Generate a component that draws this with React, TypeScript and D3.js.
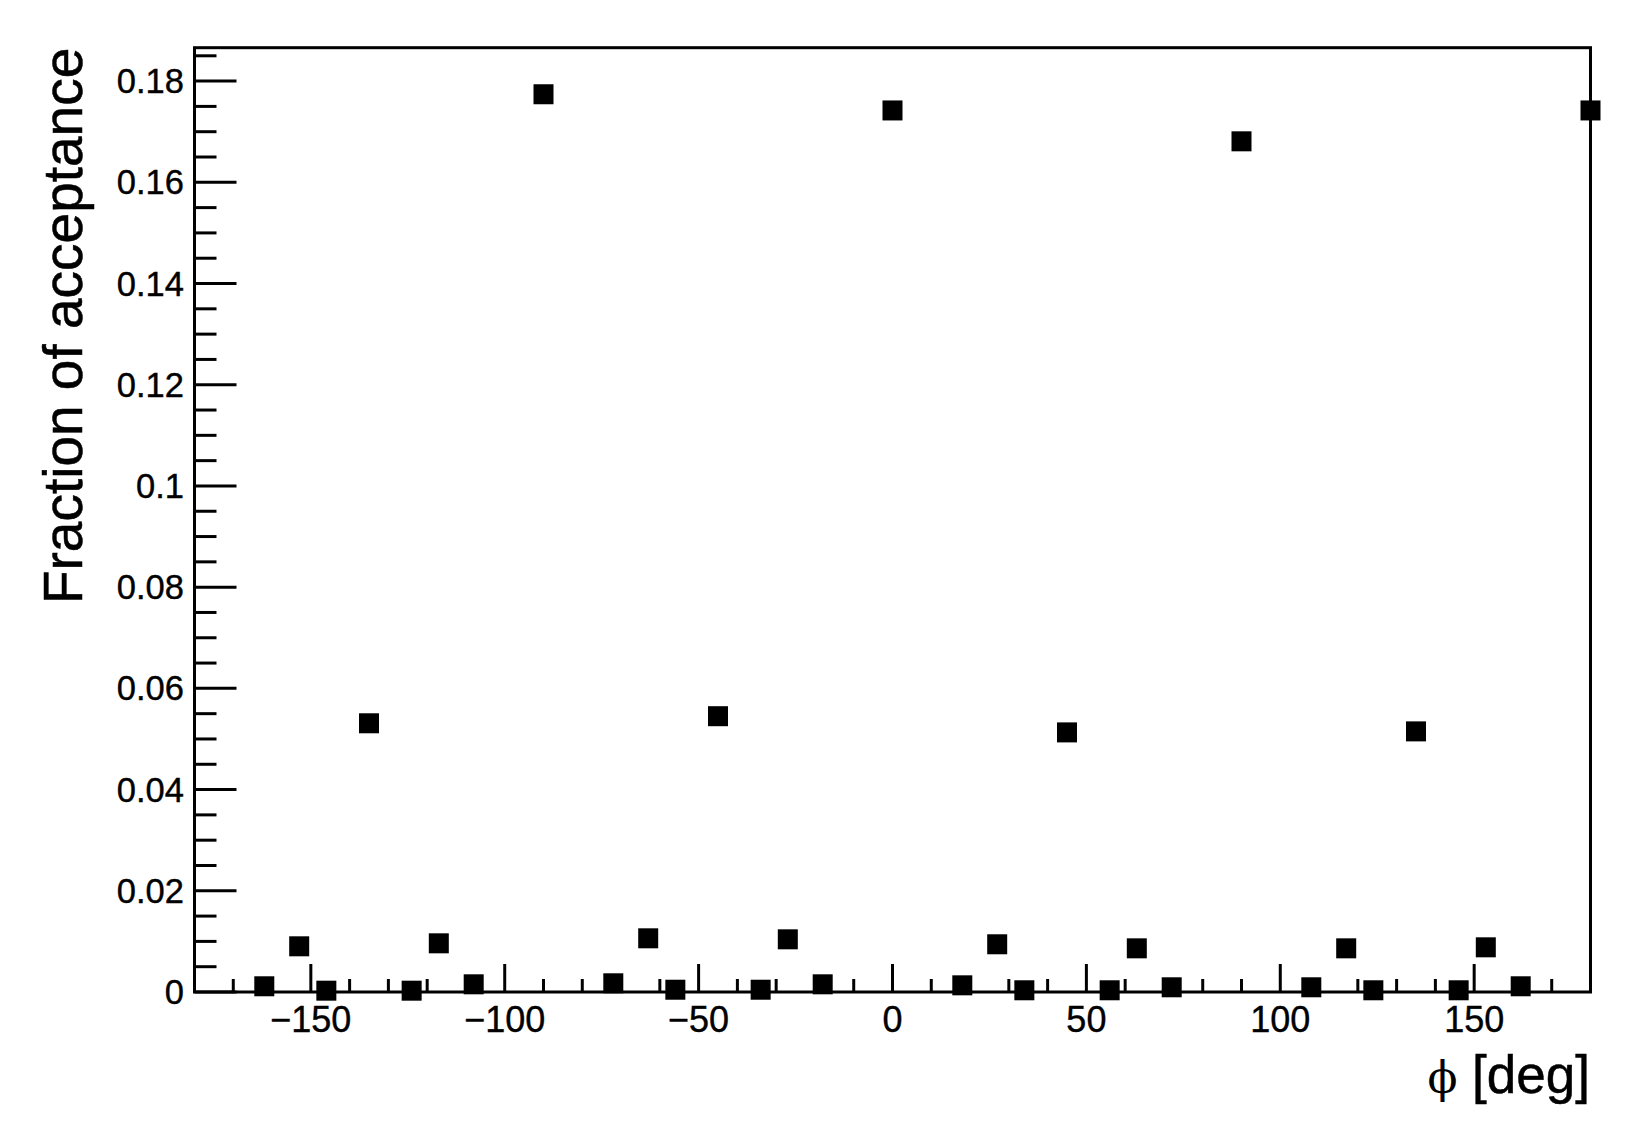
import React from "react";
import * as d3 from "d3";

// ---- data ----
const phiDeg = [
  -162, -153, -146, -135, -124, -117, -108, -90, -72, -63, -56, -45, -34, -27, -18, 0,
  18, 27, 34, 45, 56, 63, 72, 90, 108, 117, 124, 135, 146, 153, 162, 180,
];
const acceptance = [
  0.00113, 0.00903, 0.00026, 0.0531, 0.00026, 0.00962, 0.00152, 0.1774,
  0.00172, 0.01061, 0.00045, 0.0545, 0.00045, 0.01041, 0.00152, 0.1742,
  0.00132, 0.00943, 0.00034, 0.0513, 0.00034, 0.00863, 0.00093, 0.1681,
  0.00093, 0.00863, 0.00034, 0.0515, 0.00034, 0.00883, 0.00113, 0.1742,
];
const xMajorTicks = [-150, -100, -50, 0, 50, 100, 150];
const xTickLabels = ["\u2212150", "\u2212100", "\u221250", "0", "50", "100", "150"];
const yMajorTicks = [0, 0.02, 0.04, 0.06, 0.08, 0.1, 0.12, 0.14, 0.16, 0.18];
const yTickLabels = ["0", "0.02", "0.04", "0.06", "0.08", "0.1", "0.12", "0.14", "0.16", "0.18"];
const xDomain = [-180, 180];
const yDomain = [0, 0.1866];
const xTitleSymbol = "\u03D5";
const xTitleText = "[deg]";
const yTitle = "Fraction of acceptance";

const W = 1629;
const H = 1135;
const left = 194.5;
const right = 1590.5;
const top = 47.7;
const bottom = 992;

export default function App() {
  const x = d3.scaleLinear().domain(xDomain).range([left, right]);
  const y = d3.scaleLinear().domain(yDomain).range([bottom, top]);
  const xMinor = d3.range(-170, 171, 10).filter((v) => v % 50 !== 0);
  const yMinor = d3.range(0, 0.1866, 0.005).map((v) => +v.toFixed(3)).filter((v) => Math.round(v * 1000) % 20 !== 0);
  const font = "'Liberation Sans', Arial, Helvetica, sans-serif";
  const ms = 20;
  return (
    <svg width={W} height={H} style={{ position: "absolute", left: 0, top: 0, background: "#fff" }}>
      <rect x={0} y={0} width={W} height={H} fill="#fff" />
      {/* frame */}
      <rect x={left} y={top} width={right - left} height={bottom - top} fill="none" stroke="#000" strokeWidth={3} />
      {/* x ticks */}
      {xMajorTicks.map((t) => (
        <line key={"xM" + t} x1={x(t)} x2={x(t)} y1={bottom} y2={bottom - 28} stroke="#000" strokeWidth={3} />
      ))}
      {xMinor.map((t) => (
        <line key={"xm" + t} x1={x(t)} x2={x(t)} y1={bottom} y2={bottom - 13} stroke="#000" strokeWidth={3} />
      ))}
      {/* y ticks */}
      {yMajorTicks.map((t) => (
        <line key={"yM" + t} x1={left} x2={left + 42} y1={y(t)} y2={y(t)} stroke="#000" strokeWidth={3} />
      ))}
      {yMinor.map((t) => (
        <line key={"ym" + t} x1={left} x2={left + 22} y1={y(t)} y2={y(t)} stroke="#000" strokeWidth={3} />
      ))}
      {/* x tick labels */}
      {xMajorTicks.map((t, i) => (
        <text key={"xl" + t} x={x(t)} y={1031.5} textAnchor="middle" fontFamily={font} fontSize={36}
          fill="#000" stroke="#000" strokeWidth={0.4}>
          {xTickLabels[i]}
        </text>
      ))}
      {/* y tick labels */}
      {yMajorTicks.map((t, i) => (
        <text key={"yl" + t} x={184} y={y(t) + 12} textAnchor="end" fontFamily={font} fontSize={34.5}
          fill="#000" stroke="#000" strokeWidth={0.4}>
          {yTickLabels[i]}
        </text>
      ))}
      {/* axis titles */}
      <text x={1590} y={1093} textAnchor="end" fontFamily={font} fontSize={53} fill="#000" stroke="#000" strokeWidth={0.5}>
        <tspan fontFamily="'DejaVu Serif', serif" fontSize={44} strokeWidth={0}>{xTitleSymbol}</tspan>
        <tspan> {xTitleText}</tspan>
      </text>
      <text
        transform={`translate(82, ${top}) rotate(-90)`}
        textAnchor="end"
        fontFamily={font}
        fontSize={55}
        fill="#000"
        stroke="#000"
        strokeWidth={0.5}
      >
        {yTitle}
      </text>
      {/* markers */}
      {phiDeg.map((p, i) => (
        <rect key={"m" + i} x={x(p) - ms / 2} y={y(acceptance[i]) - ms / 2} width={ms} height={ms} fill="#000" />
      ))}
    </svg>
  );
}
